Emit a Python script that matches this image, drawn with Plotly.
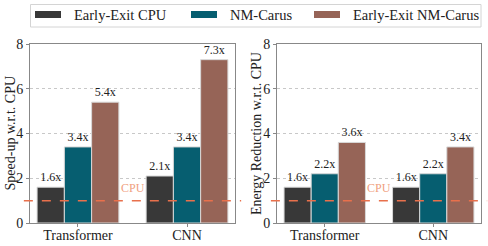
import plotly.graph_objects as go
from plotly.subplots import make_subplots

categories = ["Transformer", "CNN"]
series_names = ["Early-Exit CPU", "NM-Carus", "Early-Exit NM-Carus"]
speedup = {
    "Early-Exit CPU": [1.6, 2.1],
    "NM-Carus": [3.4, 3.4],
    "Early-Exit NM-Carus": [5.4, 7.3],
}
energy = {
    "Early-Exit CPU": [1.6, 1.6],
    "NM-Carus": [2.2, 2.2],
    "Early-Exit NM-Carus": [3.6, 3.4],
}
y_ticks = [0, 2, 4, 6, 8]
y_titles = ["Speed-up w.r.t. CPU", "Energy Reduction w.r.t. CPU"]
colors = ["#383838", "#065e70", "#966457"]
FONT = "Liberation Serif"
W, H = 488, 246


def px(x):
    return x / W


def py(y):
    return 1 - y / H


fig = make_subplots(rows=1, cols=2)
for col, data in [(1, speedup), (2, energy)]:
    for name, c in zip(series_names, colors):
        vals = data[name]
        fig.add_trace(go.Bar(
            x=categories, y=vals, name=name, marker_color=c,
            marker_line_color="#d8d8d8", marker_line_width=1,
            text=[f"{v:.1f}x" for v in vals], textposition="outside",
            textfont=dict(family=FONT, size=12, color="#222"),
            cliponaxis=False, showlegend=False, hoverinfo="skip",
        ), row=1, col=col)

fig.update_layout(
    width=W, height=H, margin=dict(l=0, r=0, t=0, b=0, autoexpand=False),
    paper_bgcolor="white", plot_bgcolor="white",
    barmode="group", bargap=0.25, bargroupgap=0,
    font=dict(family=FONT, size=14, color="#222"),
    showlegend=False, hovermode=False,
)
fig.update_xaxes(showline=True, linecolor="#888", linewidth=1, mirror=True,
                 ticks="outside", ticklen=3, tickcolor="#888", automargin=False,
                 ticklabelstandoff=-4,
                 tickfont=dict(family=FONT, size=14, color="#222"), range=[-0.44, 1.44])
fig.update_yaxes(showline=True, linecolor="#888", linewidth=1, mirror=True,
                 ticks="outside", ticklen=3, tickcolor="#888", automargin=False,
                 tickvals=y_ticks, range=[0, 8], showgrid=True,
                 gridcolor="#c8c8c8", griddash="dot", gridwidth=1,
                 tickfont=dict(family=FONT, size=14, color="#222"), zeroline=False)
fig.update_layout(
    xaxis=dict(domain=[px(30), px(235)]),
    xaxis2=dict(domain=[px(277), px(481)]),
    yaxis=dict(domain=[py(223), py(44)]),
    yaxis2=dict(domain=[py(223), py(44)]),
)
# y-axis titles
for xpx, t in zip([10, 256.5], y_titles):
    fig.add_annotation(x=px(xpx), y=(py(223) + py(44)) / 2, xref="paper", yref="paper",
                       text=t, textangle=-90, showarrow=False, xanchor="center",
                       yanchor="middle", font=dict(family=FONT, size=14, color="#222"))
# CPU reference line
for xr, yr in [("x", "y"), ("x2", "y2")]:
    fig.add_shape(type="line", xref=f"{xr} domain", yref=yr, x0=-0.03, x1=1.03, y0=1, y1=1,
                  line=dict(color="#e8704c", width=1.5, dash="dash"), layer="above")
    fig.add_annotation(x=0.5, y=1.14, xref=xr, yref=yr, text="CPU", showarrow=False,
                       yanchor="bottom", font=dict(family=FONT, size=12, color="#f0a080"))
# legend (drawn manually to match the reference's wide swatches)
fig.add_shape(type="rect", xref="paper", yref="paper", x0=px(30.5), x1=px(481), y0=py(27), y1=py(4.5),
              line=dict(color="#d4d4d4", width=1), fillcolor="white", layer="above")
sw_x = [35, 191, 314]
for name, c, sx in zip(series_names, colors, sw_x):
    fig.add_shape(type="rect", xref="paper", yref="paper", x0=px(sx), x1=px(sx + 26),
                  y0=py(18), y1=py(11), line=dict(width=0), fillcolor=c, layer="above")
    fig.add_annotation(x=px(sx + 37), y=py(15), xref="paper", yref="paper", text=name,
                       showarrow=False, xanchor="left", yanchor="middle",
                       font=dict(family=FONT, size=14.5, color="#222"))

fig.write_html("out.html", config={"displayModeBar": False, "staticPlot": True},
               post_script="document.body.style.margin='0';")
